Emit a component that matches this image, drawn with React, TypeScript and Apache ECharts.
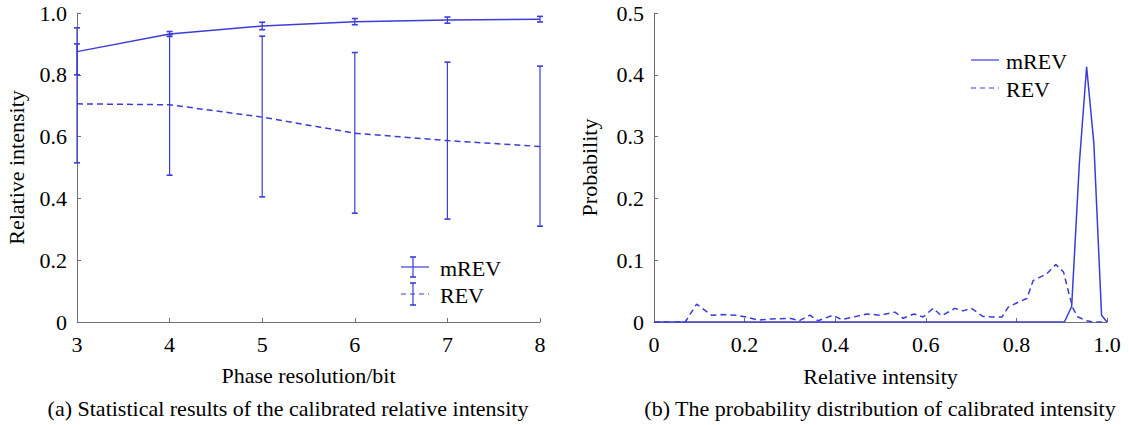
import React, { useEffect, useRef } from "react";
import * as echarts from "echarts";

const phaseBits = [3, 4, 5, 6, 7, 8];
const mrevMean = [0.875, 0.932, 0.958, 0.972, 0.977, 0.98];
const mrevLow = [0.8, 0.924, 0.946, 0.962, 0.967, 0.971];
const mrevHigh = [0.952, 0.94, 0.97, 0.982, 0.987, 0.989];
const revMean = [0.706, 0.703, 0.663, 0.611, 0.587, 0.568];
const revLow = [0.515, 0.475, 0.405, 0.352, 0.333, 0.31];
const revHigh = [0.9, 0.93, 0.925, 0.872, 0.841, 0.828];

const mrevDistX = [0, 0.906, 0.922, 0.939, 0.955, 0.971, 0.988, 1.0];
const mrevDistY = [0, 0, 0.025, 0.257, 0.413, 0.289, 0.011, 0];
const revDistX = [0, 0.069, 0.094, 0.127, 0.15, 0.183, 0.21, 0.23, 0.26, 0.3, 0.32, 0.344, 0.362, 0.395, 0.414, 0.44, 0.47, 0.499, 0.532, 0.55, 0.574, 0.594, 0.616, 0.635, 0.664, 0.682, 0.701, 0.726, 0.745, 0.768, 0.782, 0.804, 0.823, 0.837, 0.867, 0.887, 0.904, 0.918, 0.925, 0.936, 0.955, 0.97, 1.0];
const revDistY = [0, 0, 0.029, 0.011, 0.012, 0.011, 0.007, 0.003, 0.005, 0.006, 0.002, 0.011, 0.002, 0.011, 0.004, 0.008, 0.013, 0.011, 0.016, 0.006, 0.013, 0.008, 0.022, 0.01, 0.022, 0.018, 0.022, 0.009, 0.008, 0.008, 0.024, 0.032, 0.038, 0.067, 0.078, 0.093, 0.081, 0.04, 0.022, 0.008, 0.002, 0, 0];

const leftYTicks = ["0", "0.2", "0.4", "0.6", "0.8", "1.0"];
const rightYTicks = ["0", "0.1", "0.2", "0.3", "0.4", "0.5"];
const rightXTicks = ["0", "0.2", "0.4", "0.6", "0.8", "1.0"];

const C = "#3c3cd8";
const FONT = '"Liberation Serif", "Times New Roman", serif';
const AX = "#707070";
const FS = 22;

function fmt(labels: string[], step: number) {
  return (v: number) => {
    const i = Math.round(v / step);
    return labels[i] ?? String(v);
  };
}

function errorRender(params: any, api: any) {
  const x = api.value(0);
  const lo = api.coord([x, api.value(1)]);
  const hi = api.coord([x, api.value(2)]);
  const w = 3;
  const st = { stroke: C, lineWidth: 1.2 };
  return {
    type: "group",
    children: [
      { type: "line", shape: { x1: lo[0], y1: lo[1], x2: hi[0], y2: hi[1] }, style: st },
      { type: "line", shape: { x1: lo[0] - w, y1: lo[1], x2: lo[0] + w, y2: lo[1] }, style: { stroke: C, lineWidth: 1.6 } },
      { type: "line", shape: { x1: hi[0] - w, y1: hi[1], x2: hi[0] + w, y2: hi[1] }, style: { stroke: C, lineWidth: 1.6 } },
    ],
  };
}

export default function App() {
  const ref = useRef<HTMLDivElement>(null);
  useEffect(() => {
    if (!ref.current) return;
    const chart = echarts.init(ref.current, undefined, { renderer: "svg" });
    const axisCommon = {
      axisLine: { show: true, lineStyle: { color: AX, width: 1 } },
      axisTick: { show: true, inside: true, length: 4, lineStyle: { color: AX } },
      splitLine: { show: false },
      axisLabel: { color: "#000", fontFamily: FONT, fontSize: FS, margin: 10 },
      nameTextStyle: { color: "#000", fontFamily: FONT, fontSize: FS },
    };
    const xLabel = { ...axisCommon.axisLabel, margin: 11 };
    const text = (x: number, y: number, t: string, extra: any = {}) => ({
      type: "text",
      x,
      y,
      style: { text: t, fill: "#000", font: `${FS}px ${FONT}`, textVerticalAlign: "middle", ...extra },
    });
    const seg = (x1: number, y1: number, x2: number, y2: number, dash?: number[], lw = 1.2) => ({
      type: "line",
      shape: { x1, y1, x2, y2 },
      style: { stroke: C, lineWidth: lw, lineDash: dash },
    });
    const option: any = {
      animation: false,
      backgroundColor: "#fff",
      grid: [
        { left: 77, top: 13, width: 463, height: 309 },
        { left: 654, top: 13, width: 453, height: 309 },
      ],
      xAxis: [
        {
          ...axisCommon,
          gridIndex: 0,
          type: "value",
          min: 3,
          max: 8,
          interval: 1,
          name: "Phase resolution/bit",
          nameLocation: "middle",
          nameGap: 42,
          axisLabel: xLabel,
        },
        {
          ...axisCommon,
          gridIndex: 1,
          type: "value",
          min: 0,
          max: 1,
          interval: 0.2,
          name: "Relative intensity",
          nameLocation: "middle",
          nameGap: 43,
          axisLabel: { ...xLabel, formatter: fmt(rightXTicks, 0.2) },
        },
      ],
      yAxis: [
        {
          ...axisCommon,
          gridIndex: 0,
          type: "value",
          min: 0,
          max: 1,
          interval: 0.2,
          name: "Relative intensity",
          nameLocation: "middle",
          nameGap: 50,
          axisLabel: { ...axisCommon.axisLabel, formatter: fmt(leftYTicks, 0.2) },
        },
        {
          ...axisCommon,
          gridIndex: 1,
          type: "value",
          min: 0,
          max: 0.5,
          interval: 0.1,
          name: "Probability",
          nameLocation: "middle",
          nameGap: 54,
          axisLabel: { ...axisCommon.axisLabel, formatter: fmt(rightYTicks, 0.1) },
        },
      ],
      series: [
        {
          type: "line",
          xAxisIndex: 0,
          yAxisIndex: 0,
          data: phaseBits.map((x, i) => [x, mrevMean[i]]),
          showSymbol: false,
          lineStyle: { color: C, width: 1.5 },
        },
        {
          type: "line",
          xAxisIndex: 0,
          yAxisIndex: 0,
          data: phaseBits.map((x, i) => [x, revMean[i]]),
          showSymbol: false,
          lineStyle: { color: C, width: 1.5, type: [6, 4] },
        },
        {
          type: "custom",
          xAxisIndex: 0,
          yAxisIndex: 0,
          clip: false,
          data: phaseBits.map((x, i) => [x, mrevLow[i], mrevHigh[i]]),
          renderItem: errorRender,
        },
        {
          type: "custom",
          xAxisIndex: 0,
          yAxisIndex: 0,
          clip: false,
          data: phaseBits.map((x, i) => [x, revLow[i], revHigh[i]]),
          renderItem: errorRender,
        },
        {
          type: "line",
          xAxisIndex: 1,
          yAxisIndex: 1,
          data: mrevDistX.map((x, i) => [x, mrevDistY[i]]),
          showSymbol: false,
          lineStyle: { color: C, width: 1.5 },
        },
        {
          type: "line",
          xAxisIndex: 1,
          yAxisIndex: 1,
          data: revDistX.map((x, i) => [x, revDistY[i]]),
          showSymbol: false,
          lineStyle: { color: C, width: 1.5, type: [6, 4] },
        },
      ],
      graphic: [
        // left legend
        seg(401, 267, 429, 267),
        seg(413, 257, 413, 277),
        seg(410, 257, 416, 257, undefined, 1.6),
        seg(410, 277, 416, 277, undefined, 1.6),
        text(440, 268, "mREV"),
        seg(401, 294, 429, 294, [5, 4]),
        seg(413, 283, 413, 305),
        seg(410, 283, 416, 283, undefined, 1.6),
        seg(410, 305, 416, 305, undefined, 1.6),
        text(440, 295, "REV"),
        // right legend
        seg(971, 60, 999, 60),
        text(1006, 61, "mREV"),
        seg(971, 88, 999, 88, [5, 4]),
        text(1006, 89, "REV"),
        // captions
        text(288, 408, "(a) Statistical results of the calibrated relative intensity", { textAlign: "center" }),
        text(880, 408, "(b) The probability distribution of calibrated intensity", { textAlign: "center" }),
      ],
    };
    chart.setOption(option);
    return () => chart.dispose();
  }, []);
  return <div ref={ref} style={{ position: "fixed", left: 0, top: 0, width: 1129, height: 425 }} />;
}
